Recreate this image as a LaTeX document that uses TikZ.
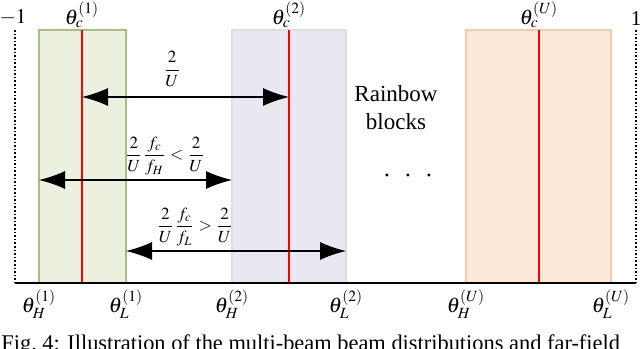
\documentclass[tikz,border=0pt]{standalone}
\usepackage{amsmath}
\usepackage{mathptmx}
\usepackage{fontspec}
\setmainfont{Liberation Serif}
\usetikzlibrary{arrows.meta}
\definecolor{greenfill}{HTML}{EBF1DE}
\definecolor{greenline}{HTML}{A6C27A}
\definecolor{purplefill}{HTML}{E9E7EF}
\definecolor{purpleline}{HTML}{DEDCE7}
\definecolor{orangefill}{HTML}{FCE9DA}
\definecolor{orangeline}{HTML}{F8CBA6}
\tikzset{
  block/.style={line width=0.6pt},
  centre/.style={red, line width=1pt},
  span/.style={{Latex[length=13pt,width=9pt]}-{Latex[length=13pt,width=9pt]}, line width=0.6pt},
  lbl/.style={font=\fontsize{10.5}{12}\selectfont, inner sep=1pt},
  frac/.style={font=\fontsize{8.5}{10}\selectfont, inner sep=1pt}
}
\begin{document}
\begin{tikzpicture}[x=0.5pt, y=-0.5pt]
    \useasboundingbox (0,0) rectangle (640,348);
    % blocks
    \draw[block, fill=greenfill, draw=greenline] (39,30) rectangle (126,283);
    \draw[block, fill=purplefill, draw=purpleline] (232,30) rectangle (346,283);
    \draw[block, fill=orangefill, draw=orangeline] (466,30) rectangle (611,283);

    % edges and centres
    \coordinate (h1) at (39,283);  \coordinate (l1) at (126,283);
    \coordinate (h2) at (232,283); \coordinate (l2) at (346,283);
    \coordinate (hU) at (466,283); \coordinate (lU) at (611,283);
    \coordinate (c1) at (82,30);   \coordinate (c2) at (289,30);
    \coordinate (cU) at (539,30);
    \draw[centre] (c1) -- (c1 |- h1);
    \draw[centre] (c2) -- (c2 |- h2);
    \draw[centre] (cU) -- (cU |- hU);

    % axis
    \coordinate (left) at (15,30);   \coordinate (right) at (636,30);
    \draw[densely dotted, line width=0.8pt] (left) -- (left |- h1);
    \draw[densely dotted, line width=0.8pt] (right) -- (right |- h1);
    \draw[line width=0.8pt] (left |- h1) -- (right |- h1);
    \node[lbl] (mone) at (13,17) {$-1$};
    \node[lbl] (one) at (636,19) {1};

    % centre labels
    \node[lbl, anchor=south] (tc1) at (c1) {$\theta_c^{(1)}$};
    \node[lbl, anchor=south] (tc2) at (c2) {$\theta_c^{(2)}$};
    \node[lbl, anchor=south] (tcU) at (cU) {$\theta_c^{(U)}$};

    % edge labels
    \node[lbl, anchor=north] (th1) at ([yshift=-2pt]h1) {$\theta_H^{(1)}$};
    \node[lbl, anchor=north] (tl1) at ([yshift=-2pt]l1) {$\theta_L^{(1)}$};
    \node[lbl, anchor=north] (th2) at ([yshift=-2pt]h2) {$\theta_H^{(2)}$};
    \node[lbl, anchor=north] (tl2) at ([yshift=-2pt]l2) {$\theta_L^{(2)}$};
    \node[lbl, anchor=north] (thU) at ([yshift=-2pt]hU) {$\theta_H^{(U)}$};
    \node[lbl, anchor=north] (tlU) at ([yshift=-2pt]lU) {$\theta_L^{(U)}$};

    % spans
    \draw[span] (c1 |- 0,97) -- (c2 |- 0,97);
    \node[frac] (f1) at (172,69) {$\dfrac{2}{U}$};
    \draw[span] (h1 |- 0,180) -- (h2 |- 0,180);
    \node[frac] (f2) at (165,156) {$\dfrac{2}{U}\dfrac{f_c}{f_H}<\dfrac{2}{U}$};
    \draw[span] (l1 |- 0,251) -- (l2 |- 0,251);
    \node[frac] (f3) at (195,227) {$\dfrac{2}{U}\dfrac{f_c}{f_L}>\dfrac{2}{U}$};

    % text
    \node[font=\fontsize{11.5}{14}\selectfont, align=center] (rainbow) at (396,108) {Rainbow\\blocks};
    \node[font=\fontsize{14}{14}\selectfont] (dots) at (408,176) {$\cdot\;\,\cdot\;\,\cdot$};
    \node[font=\fontsize{11.2}{13}\selectfont, inner sep=0pt, anchor=base west] (caption) at (1,350)
      {Fig.~4: Illustration of the multi-beam beam distributions and far-field};
\end{tikzpicture}
\end{document}
